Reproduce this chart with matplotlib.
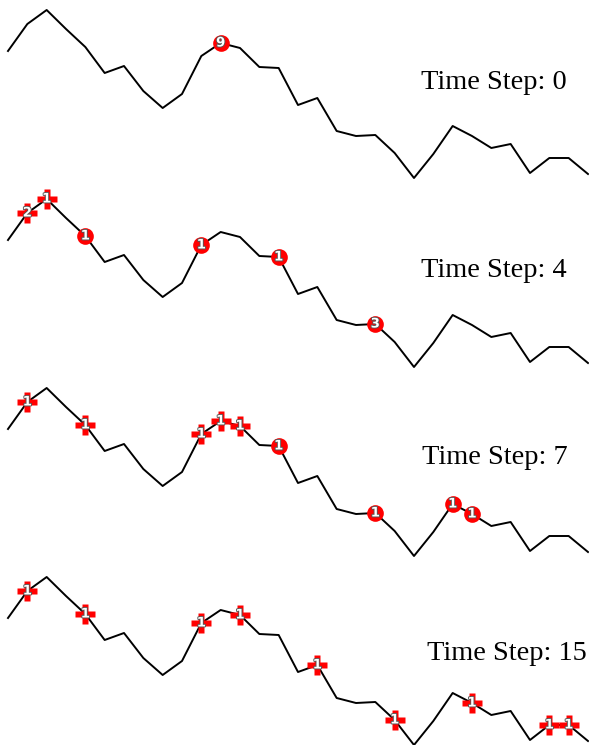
import matplotlib
matplotlib.use("Agg")
import matplotlib.pyplot as plt
import matplotlib.patheffects as pe
import numpy as np

# Terrain heights (same in every panel), 31 evenly spaced positions
heights = [129, 156, 170, 151, 133, 107, 114, 89, 72, 86, 124, 137, 132, 113, 112,
           75, 82, 49, 44, 45, 27, 2, 26, 54, 44, 32, 36, 7, 22, 22, 6]
time_steps = [0, 4, 7, 15]

# markers per time step: (position index, count)
crosses = {
    0: [],
    4: [(1, 2), (2, 1)],
    7: [(1, 1), (4, 1), (10, 1), (11, 1), (12, 1)],
    15: [(1, 1), (4, 1), (10, 1), (12, 1), (16, 1), (20, 1), (24, 1), (28, 1), (29, 1)],
}
circles = {
    0: [(11, 9)],
    4: [(4, 1), (10, 1), (14, 1), (19, 3)],
    7: [(14, 1), (19, 1), (23, 1), (24, 1)],
    15: [],
}

W, H = 589, 745
fig = plt.figure(figsize=(W / 100, H / 100), dpi=100)

step_px = 19.333
x0_px = 8
panel_h = 189
offsets = [0, 189, 378, 567]
text_x_px = [421, 421, 422, 427]
text_base_px = [89, 88, 86, 93]

xs = np.arange(len(heights))
xlim = (-x0_px / step_px, (W - x0_px) / step_px)

stroke = [pe.withStroke(linewidth=1.3, foreground="#555555")]

for k, t in enumerate(time_steps):
    top = offsets[k]
    ax = fig.add_axes([0, 1 - (top + panel_h) / H, 1, panel_h / H])
    ax.set_xlim(*xlim)
    ax.set_ylim(180 - panel_h, 180)
    ax.axis("off")
    ax.plot(xs, heights, color="black", lw=1.4, zorder=1, clip_on=False)

    for idx, n in crosses[t]:
        ax.plot(xs[idx], heights[idx], marker="P", ms=14, color="red",
                mec="none", zorder=3, clip_on=False)
        ax.text(xs[idx], heights[idx], str(n), color="white", fontsize=9.5,
                fontweight="bold", ha="center", va="center", zorder=4,
                path_effects=stroke)
    for idx, n in circles[t]:
        ax.plot(xs[idx], heights[idx], marker="o", ms=12, color="red",
                mec="none", zorder=3, clip_on=False)
        ax.text(xs[idx], heights[idx], str(n), color="white", fontsize=9.5,
                fontweight="bold", ha="center", va="center", zorder=4,
                path_effects=stroke)

    tx = (text_x_px[k] - x0_px) / step_px
    ty = 180 - text_base_px[k]
    ax.text(tx, ty, f"Time Step: {t}", family="Liberation Serif", fontsize=20.4,
            ha="left", va="baseline", color="black", zorder=5)

fig.savefig("out.png", dpi=100)
